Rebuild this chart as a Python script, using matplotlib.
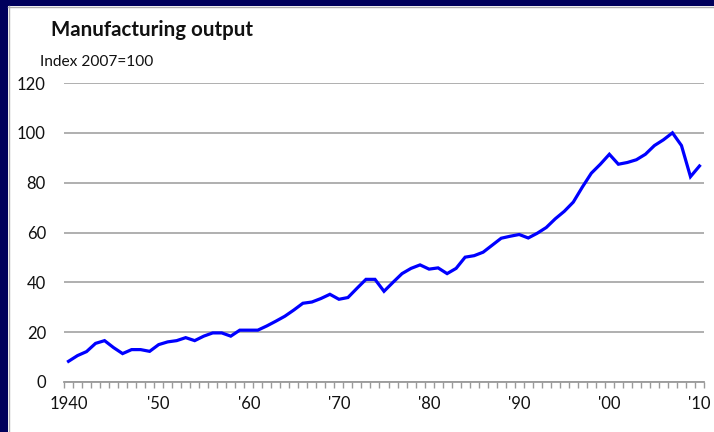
import matplotlib.pyplot as plt
from matplotlib.patches import Rectangle

# --- data ---
years = list(range(1940, 2011))
output = [
    8.3, 10.6, 12.2, 15.5, 16.6, 13.8, 11.4, 13.0, 13.0, 12.3,   # 1940s
    15.0, 16.1, 16.6, 17.8, 16.6, 18.4, 19.7, 19.7, 18.4, 20.8,   # 1950s
    20.8, 20.8, 22.5, 24.4, 26.4, 28.9, 31.6, 32.1, 33.5, 35.2,   # 1960s
    33.2, 33.9, 37.6, 41.2, 41.2, 36.4, 40.0, 43.5, 45.6, 47.0,   # 1970s
    45.3, 45.8, 43.5, 45.6, 50.1, 50.7, 52.1, 54.9, 57.7, 58.5,   # 1980s
    59.2, 57.8, 59.7, 62.0, 65.5, 68.5, 72.2, 78.2, 83.8, 87.4,   # 1990s
    91.4, 87.4, 88.1, 89.2, 91.4, 94.9, 97.2, 100.0, 94.9, 82.4,  # 2000s
    86.7,
]
label_years = [1940, 1950, 1960, 1970, 1980, 1990, 2000, 2010]
label_text = ["1940", "'50", "'60", "'70", "'80", "'90", "'00", "'10"]
y_ticks = [0, 20, 40, 60, 80, 100, 120]

title = "Manufacturing output"
unit_note = "Index 2007=100"

W, H = 714, 432
navy = "#00005C"
grey = "#9a9a9a"
font = "Lato"

fig = plt.figure(figsize=(W / 100, H / 100), dpi=100, facecolor=navy)

# white slide panel with thin grey edge on left/top
fig.patches.append(Rectangle((8 / W, 0), 1 - 8 / W, 1 - 6 / H, transform=fig.transFigure,
                             facecolor="white", edgecolor="none", zorder=-10))
fig.add_artist(plt.Line2D([8.5 / W, 8.5 / W], [0, 1 - 6 / H], transform=fig.transFigure,
                          color="#b0b0b0", lw=1, zorder=-5))
fig.add_artist(plt.Line2D([8 / W, 1], [1 - 6.5 / H, 1 - 6.5 / H], transform=fig.transFigure,
                          color="#b0b0b0", lw=1, zorder=-5))

ax = fig.add_axes([64 / W, (H - 382) / H, 640 / W, 299 / H])
ax.set_facecolor("none")

ax.plot(years, output, color="#0000FF", lw=2.3, solid_joinstyle="miter", zorder=3)

ax.set_xlim(1939.5, 2010.5)
ax.set_ylim(0, 120)
ax.set_yticks(y_ticks)
ax.yaxis.grid(True, color=grey, lw=1.1)
ax.set_axisbelow(True)

ax.set_xticks(label_years)
ax.set_xticklabels(label_text)
ax.set_xticks([y - 0.5 for y in years] + [2010.5], minor=True)
ax.tick_params(axis="x", which="major", length=0, pad=10, labelsize=12)
ax.tick_params(axis="x", which="minor", length=4.5, width=1, color=grey, direction="out")
ax.tick_params(axis="y", length=0, pad=13, labelsize=12)
for lab in ax.get_xticklabels() + ax.get_yticklabels():
    lab.set_fontfamily(font)
    lab.set_color("#111111")

for s in ["left", "right", "top"]:
    ax.spines[s].set_visible(False)
ax.spines["bottom"].set_color(grey)
ax.spines["bottom"].set_linewidth(1.3)

fig.text(51 / W, 1 - 36 / H, title, fontsize=14.8, fontweight="bold", family=font,
         color="#111111", ha="left", va="baseline")
fig.text(40 / W, 1 - 66.5 / H, unit_note, fontsize=11.2, family=font,
         color="#111111", ha="left", va="baseline")

fig.savefig("out.png", dpi=100, facecolor=navy)
